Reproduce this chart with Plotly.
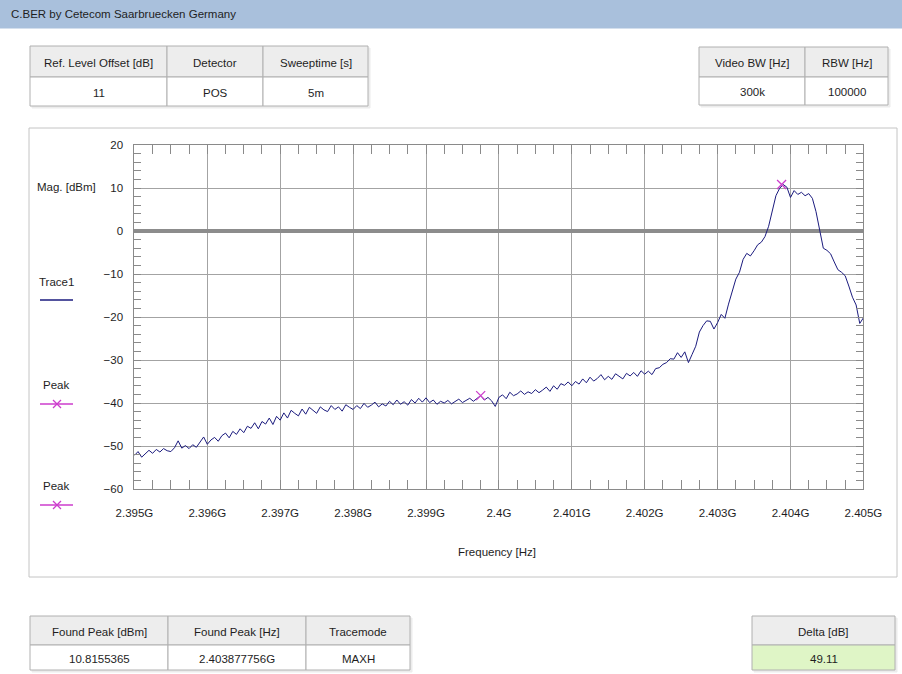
import numpy as np
import plotly.graph_objects as go

W, H = 902, 674

# ---------------- data ----------------
title_text = "C.BER by Cetecom Saarbruecken Germany"

f_start_hz = 2.395e9
f_stop_hz = 2.405e9

# Trace1 (MAXH), 201 sweep points, dBm
trace1_dbm = [
    -52.2, -51.3, -52.6, -51.9, -51.0, -51.7, -50.8, -51.4, -50.6, -51.1,
    -51.3, -50.4, -48.8, -50.5, -49.9, -50.6, -49.7, -50.3, -49.2, -47.9,
    -49.6, -48.6, -48.0, -48.9, -47.6, -47.0, -48.1, -46.6, -47.3, -46.0,
    -46.9, -45.4, -45.9, -44.6, -46.0, -44.3, -44.9, -43.5, -45.0, -43.1,
    -44.0, -42.3, -43.5, -41.7, -42.4, -43.0, -41.4, -42.6, -41.0, -41.8,
    -42.4, -40.9, -41.6, -42.0, -40.6, -41.5, -40.9, -41.9, -40.4, -41.0,
    -41.5, -40.6, -41.3, -40.1, -41.0, -40.5, -39.8, -40.9, -40.2, -40.7,
    -39.6, -40.4, -39.3, -40.3, -39.7, -40.5, -39.2, -40.0, -38.9, -39.8,
    -38.8, -39.9, -39.3, -40.3, -39.6, -40.0, -39.4, -40.2, -39.7, -39.1,
    -39.9, -39.3, -38.9, -39.6, -39.0, -38.29, -39.3, -38.7, -39.5, -40.8,
    -38.7, -38.1, -39.0, -37.5, -38.3, -37.9, -37.2, -38.0, -37.4, -37.8,
    -36.9, -37.6, -37.0, -36.3, -37.3, -36.0, -36.8, -35.5, -35.9, -35.1,
    -36.0, -35.0, -35.6, -34.4, -35.3, -34.0, -34.9, -34.3, -33.4, -34.6,
    -33.8, -34.5, -33.2, -33.9, -34.4, -33.1, -33.7, -32.9, -33.8, -32.5,
    -33.3, -32.6, -33.4, -32.0, -31.8, -31.0, -30.6, -29.7, -29.8, -28.3,
    -29.4, -28.1, -30.6, -28.7, -26.8, -23.5, -22.0, -20.9, -21.0, -22.8,
    -21.3, -19.4, -20.3, -17.0, -14.2, -11.2, -9.6, -6.6, -5.2, -5.8,
    -4.6, -3.2, -2.6, -1.3, 1.1, 5.0, 8.2, 9.9, 10.8, 10.2,
    7.8, 9.4, 8.5, 9.0, 8.2, 8.7, 7.6, 4.5, 0.4, -4.0,
    -4.5, -5.3, -7.2, -9.0, -9.6, -10.4, -12.8, -15.4, -17.2, -21.5,
    -20.2,
]

peak_freq_hz = [2.403877756e9, 2.39975e9]
peak_dbm = [10.8155365, -38.29]

x_tick_vals_hz = [2.395e9, 2.396e9, 2.397e9, 2.398e9, 2.399e9, 2.400e9,
                  2.401e9, 2.402e9, 2.403e9, 2.404e9, 2.405e9]
x_tick_text = ["2.395G", "2.396G", "2.397G", "2.398G", "2.399G", "2.4G",
               "2.401G", "2.402G", "2.403G", "2.404G", "2.405G"]
y_tick_vals = [20, 10, 0, -10, -20, -30, -40, -50, -60]

top_left_headers = ["Ref. Level Offset [dB]", "Detector", "Sweeptime [s]"]
top_left_values = ["11", "POS", "5m"]
top_right_headers = ["Video BW [Hz]", "RBW [Hz]"]
top_right_values = ["300k", "100000"]
bottom_left_headers = ["Found Peak [dBm]", "Found Peak [Hz]", "Tracemode"]
bottom_left_values = ["10.8155365", "2.403877756G", "MAXH"]
bottom_right_headers = ["Delta [dB]"]
bottom_right_values = ["49.11"]

# ---------------- styling ----------------
FONT = "Liberation Sans Narrow, Arial Narrow, Liberation Sans, Arial, sans-serif"
FS = 11.5
TXT = "#1e1e1e"
NAVY = "#1b1b7e"
MAG = "#cc3dcc"
GRID = "#a3a3a3"


def px(x):
    return x / W


def py(y):
    return 1 - y / H


freq_hz = np.linspace(f_start_hz, f_stop_hz, len(trace1_dbm))

fig = go.Figure()
fig.add_trace(go.Scatter(x=freq_hz, y=trace1_dbm, mode="lines",
                         line=dict(color=NAVY, width=1), showlegend=False,
                         hoverinfo="skip"))
fig.add_trace(go.Scatter(x=peak_freq_hz, y=peak_dbm, mode="markers",
                         marker=dict(symbol="x-thin", size=9,
                                     line=dict(color=MAG, width=1.3)),
                         showlegend=False, hoverinfo="skip"))

shapes = []
annotations = []


def rect(x0, y0, x1, y1, fill=None, line="#b4b4b4", lw=1, layer="below"):
    shapes.append(dict(type="rect", xref="paper", yref="paper",
                       x0=px(x0), x1=px(x1), y0=py(y1), y1=py(y0),
                       fillcolor=fill if fill else "rgba(0,0,0,0)",
                       line=dict(color=line, width=lw), layer=layer))


def hline(x0, x1, y, color, lw=1):
    shapes.append(dict(type="line", xref="paper", yref="paper",
                       x0=px(x0), x1=px(x1), y0=py(y), y1=py(y),
                       line=dict(color=color, width=lw)))


def seg(x0, y0, x1, y1, color, lw=1):
    shapes.append(dict(type="line", xref="paper", yref="paper",
                       x0=px(x0), x1=px(x1), y0=py(y0), y1=py(y1),
                       line=dict(color=color, width=lw)))


def text(x, y, s, size=FS, color=TXT, xanchor="center"):
    annotations.append(dict(x=px(x), y=py(y), xref="paper", yref="paper",
                            text=s, showarrow=False, xanchor=xanchor,
                            yanchor="middle",
                            font=dict(family=FONT, size=size, color=color)))


def table(col_edges, y0, ymid, y1, headers, values, value_fill="#ffffff"):
    rect(col_edges[0] + 2, y0 + 2, col_edges[-1] + 2, y1 + 2, fill="#ececec",
         line="#ececec")
    for i in range(len(headers)):
        a, b = col_edges[i], col_edges[i + 1]
        rect(a, y0, b, ymid, fill="#ededed", line="#b0b0b0")
        rect(a, ymid, b, y1, fill=value_fill, line="#b0b0b0")
        text((a + b) / 2, (y0 + ymid) / 2 + 1, headers[i])
        text((a + b) / 2, (ymid + y1) / 2 + 1, values[i])


# title bar
rect(0, 0, W, 28, fill="#a9c0dc", line="#a9c0dc")
text(9, 14, title_text, xanchor="left")

# tables
table([30, 167, 263, 368], 46, 77, 106, top_left_headers, top_left_values)
table([699, 805, 888], 47, 77, 105, top_right_headers, top_right_values)
table([30, 168, 306, 410], 616, 645, 670, bottom_left_headers,
      bottom_left_values)
table([752, 895], 616, 645, 670, bottom_right_headers, bottom_right_values,
      value_fill="#dff5c6")

# chart panel
rect(29, 128, 897, 577, fill="#ffffff", line="#c4c4c4")

# axis / legend labels
text(66, 187, "Mag. [dBm]")
text(497, 552, "Frequency [Hz]")
text(56, 282, "Trace1")
hline(40, 73, 300, NAVY, 1.3)
text(56, 385, "Peak")
hline(40, 73, 404, MAG, 1.3)
seg(53, 400, 61, 408, MAG, 1.2)
seg(53, 408, 61, 400, MAG, 1.2)
text(56, 486, "Peak")
hline(40, 73, 505, MAG, 1.3)
seg(53, 501, 61, 509, MAG, 1.2)
seg(53, 509, 61, 501, MAG, 1.2)

x0p, x1p = 134.4, 863.4
y0p, y1p = 145, 489

fig.update_layout(
    width=W, height=H, autosize=False,
    margin=dict(l=0, r=0, t=0, b=0, pad=0, autoexpand=False),
    paper_bgcolor="#ffffff", plot_bgcolor="#ffffff",
    shapes=shapes, annotations=annotations,
    font=dict(family=FONT, size=FS, color=TXT),
    xaxis=dict(
        domain=[px(x0p), px(x1p)], range=[f_start_hz, f_stop_hz],
        automargin=False,
        tickmode="array", tickvals=x_tick_vals_hz, ticktext=x_tick_text,
        showgrid=True, gridcolor=GRID, gridwidth=1,
        showline=True, linecolor="#8a8a8a", linewidth=1, mirror="allticks",
        ticks="inside", ticklen=9, tickcolor="#8a8a8a",
        minor=dict(dtick=0.25e6, tick0=f_start_hz, ticks="inside", ticklen=9,
                   tickcolor="#8a8a8a", showgrid=False),
        tickfont=dict(family=FONT, size=FS, color=TXT),
        ticklabelstandoff=13, zeroline=False, fixedrange=True,
    ),
    yaxis=dict(
        domain=[py(y1p), py(y0p)], range=[-60, 20],
        automargin=False,
        tickmode="array", tickvals=y_tick_vals,
        showgrid=True, gridcolor=GRID, gridwidth=1,
        showline=True, linecolor="#8a8a8a", linewidth=1, mirror="allticks",
        ticks="inside", ticklen=7, tickcolor="#8a8a8a",
        minor=dict(dtick=2, tick0=0, ticks="inside", ticklen=7,
                   tickcolor="#8a8a8a", showgrid=False),
        tickfont=dict(family=FONT, size=FS, color=TXT),
        ticklabelstandoff=8,
        zeroline=True, zerolinecolor="#8c8c8c", zerolinewidth=4,
        fixedrange=True,
    ),
)

fig.write_html(
    "out.html",
    config={"responsive": False, "displayModeBar": False},
    post_script="document.body.style.margin='0px';"
                "document.body.style.overflow='hidden';",
)
